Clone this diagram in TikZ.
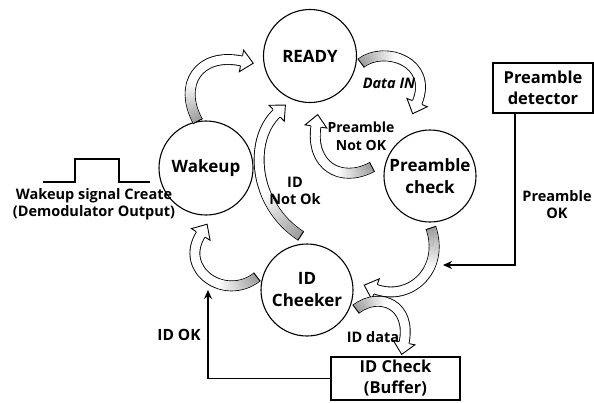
\documentclass[tikz,border=0pt]{standalone}
\usepackage{fontspec}
\setmainfont{Open Sans}
\usetikzlibrary{arrows.meta,decorations.markings}

\tikzset{
  stnode/.style={circle, draw, line width=1.1pt, minimum size=#1, inner sep=0pt,
    align=center, font=\fontsize{17}{22}\selectfont\bfseries},
  boxnode/.style={draw, line width=1.3pt, inner sep=0pt, align=center,
    font=\fontsize{16.5}{21}\selectfont\bfseries},
  lbl/.style={align=center, inner sep=0pt, font=\fontsize{14.5}{17}\selectfont\bfseries},
  conn/.style={line width=1.8pt, -{Stealth[length=9pt,width=8pt]}},
  wave/.style={line width=1.6pt, line join=miter},
  % wide curved arrow: outlined band, shaded tail, triangular head past the end point
  barrow/.style={draw=black, line width=0.9pt, double=white, double distance=9pt,
    postaction={decorate, decoration={markings,
      mark=between positions 0 and 0.4 step 0.5pt with {%
        \pgfmathsetmacro\shd{42*(1-\pgfkeysvalueof{/pgf/decoration/mark info/distance from start}/(0.4*\pgfdecoratedpathlength))}%
        \fill[black!\shd] (0,-4.45pt) rectangle (0.6pt,4.45pt);},
      mark=at position 0 with {\draw[line width=0.9pt] (0,-5.4pt) -- (0,5.4pt);},
      mark=at position 0.995 with {\draw[line width=0.9pt, fill=white]
        (0,-5.4pt) -- (0,-11pt) -- (12pt,0) -- (0,11pt) -- (0,5.4pt);}
    }}},
}

\begin{document}
\begin{tikzpicture}[x=1pt,y=-1pt]
\useasboundingbox (0,0) rectangle (594,402);

% states
\node[stnode=93pt] (ready) at (310,56) {READY};
\node[stnode=94pt] (wakeup) at (206,168) {Wakeup};
\node[stnode=92pt] (pre) at (430,176) {Preamble\\check};
\node[stnode=92pt] (idc) at (307,290) {ID\\Cheeker};

% side blocks
\node[boxnode, minimum width=100pt, minimum height=50pt] (det) at (543,88) {Preamble\\detector};
\node[boxnode, minimum width=129pt, minimum height=43pt] (buf) at (395.5,378.5) {ID Check\\(Buffer)};

% wakeup pulse
\draw[wave] (43,182) -- (75,182) -- (75,159) -- (119,159) -- (119,182) -- (150,182);
\node[lbl] (wtxt) at (94,204.5) {Wakeup signal Create\\(Demodulator Output)};

% end points of the curved transition arrows
\coordinate (h1) at (242,61);
\coordinate (t2) at (361,63);
\coordinate (h2) at (417,103);
\coordinate (t3) at (372,167);
\coordinate (h3) at (316,126);
\coordinate (t4) at (431,228);
\coordinate (h4) at (375,289);
\coordinate (t5) at (356,309);
\coordinate (h5) at (404,343);
\coordinate (t6) at (257,277);
\coordinate (h6) at (201,234);
\coordinate (t7) at (301,236);
\coordinate (h7) at (277,113);

% transitions
\draw[barrow] (wakeup.100) .. controls (178,85) and (198,52) .. (h1);
\draw[barrow] (t2) .. controls (385,45) and (434,62) .. (h2);
\draw[barrow] (t3) .. controls (340,184) and (310,165) .. (h3);
\draw[barrow] (t4) .. controls (445,270) and (410,302) .. (h4);
\draw[barrow] (t5) .. controls (380,291) and (412,305) .. (h5);
\draw[barrow] (t6) .. controls (225,302) and (178,270) .. (h6);
\draw[barrow] (t7) .. controls (253,205) and (248,140) .. (h7);

% transition labels
\node[lbl, font=\fontsize{14.5}{17}\selectfont\bfseries\itshape] (ldata) at (389,83) {Data IN};
\node[lbl, font=\fontsize{14}{18}\selectfont\bfseries] (lpno) at (361,136) {Preamble\\Not OK};
\node[lbl] (lidno) at (295,191) {ID\\Not Ok};
\node[lbl] (liddata) at (373,337) {ID data};
\node[lbl, font=\fontsize{15.5}{18}\selectfont\bfseries] (lidok) at (179,335) {ID OK};
\node[lbl] (lpok) at (557,204.5) {Preamble\\OK};

% detector and buffer outputs
\coordinate (pok) at (443,265);
\coordinate (idok) at (208,290);
\draw[conn] ([xshift=-28pt]det.south) |- (pok);
\draw[conn] (buf.west) -| (idok);
\end{tikzpicture}
\end{document}
